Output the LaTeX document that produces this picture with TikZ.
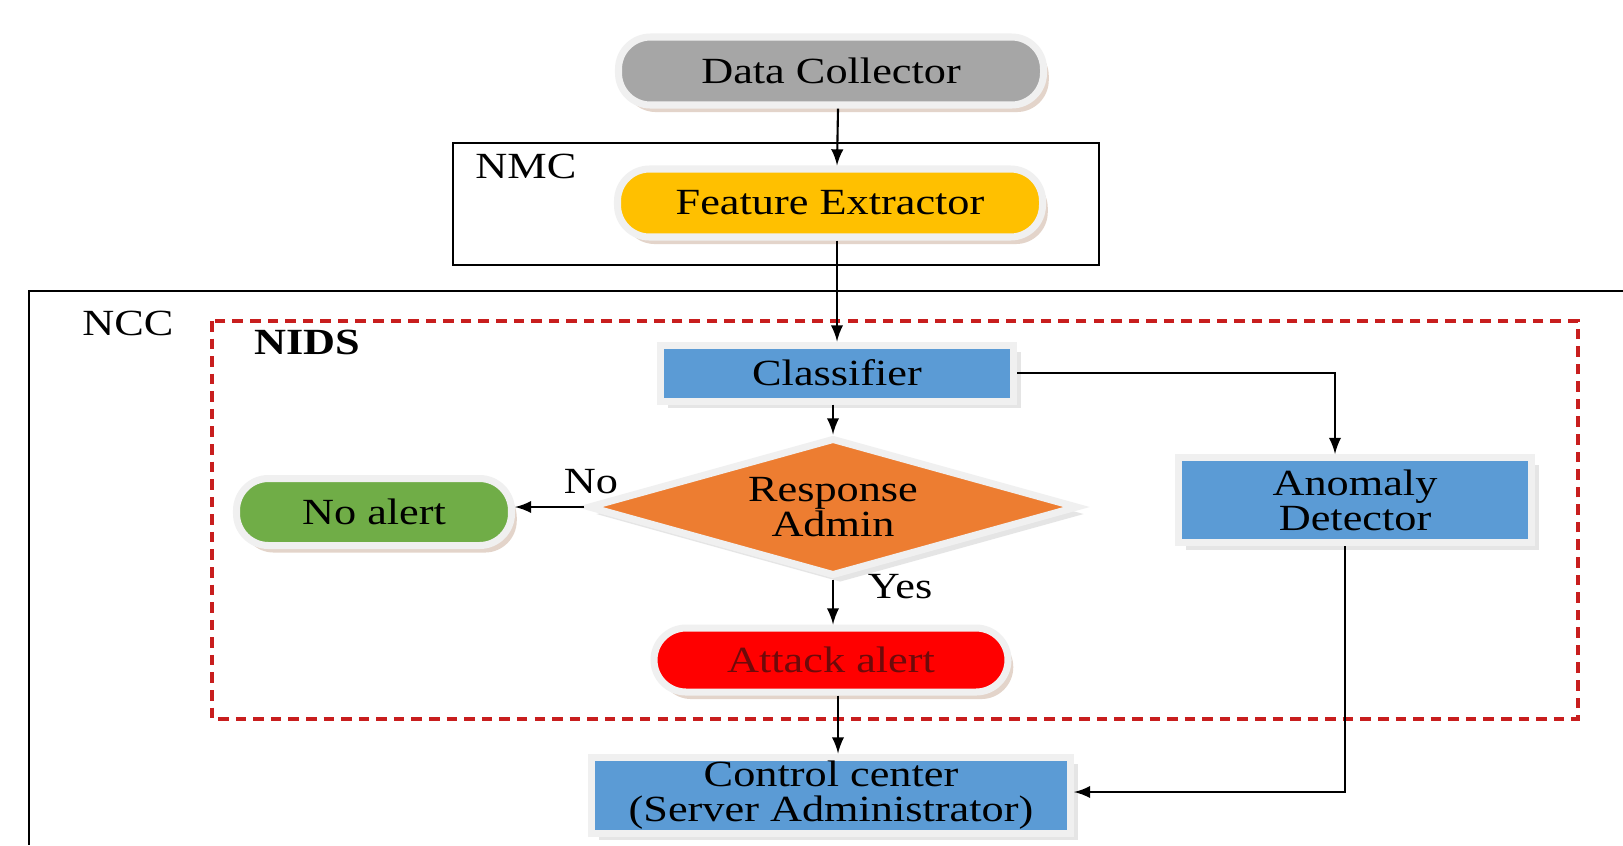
\documentclass[tikz,border=0pt]{standalone}
\usepackage{fontspec}
\setmainfont{Liberation Serif}[FakeStretch=1.2]
\usepackage{tikz}
\usetikzlibrary{arrows}
\usetikzlibrary{shadows}
\usetikzlibrary{shapes.geometric}
\definecolor{concrete}{RGB}{166, 166, 166}
\definecolor{amber}{RGB}{255, 192, 0}
\definecolor{steel}{RGB}{91, 155, 213}
\definecolor{carrot}{RGB}{237, 125, 49}
\definecolor{leaf}{RGB}{112, 173, 71}
\definecolor{scarlet}{RGB}{255, 0, 0}
\definecolor{maroon}{RGB}{110, 10, 10}
\definecolor{brick}{RGB}{200, 30, 30}
\definecolor{tan}{RGB}{200, 170, 150}

\tikzset{
    base/.style     = {font=\fontsize{10.5}{10}\selectfont, align=center, inner sep=0pt,
                       draw=gray!12, line width=2pt},
    pill/.style     = {base, rectangle, rounded corners=0.32cm,
                       drop shadow={shadow xshift=1.5pt, shadow yshift=-2pt, fill=tan}},
    block/.style    = {base, rectangle,
                       drop shadow={shadow xshift=2pt, shadow yshift=-2pt, fill=gray!40}},
    decision/.style = {base, diamond, aspect=3.5,
                       drop shadow={shadow xshift=2pt, shadow yshift=-2pt, fill=gray!40}},
    arrow/.style    = {-latex, line width=0.6pt},
    tag/.style      = {font=\fontsize{10.5}{12}\selectfont}
}

\begin{document}
\begin{tikzpicture}
    \useasboundingbox (0.00, 0.00) rectangle (16.23,-8.45);
    \fill[white]      (0.00, 0.00) rectangle (16.23,-8.45);

    % frames
    \draw[thick]                                              (16.23,-2.91) -- (0.29,-2.91) -- (0.29,-8.45);
    \draw[thick]                                              ( 4.53,-1.43) rectangle (10.99,-2.65);
    \draw[brick, line width=1.1pt, dash pattern=on 3pt off 2pt]( 2.12,-3.21) rectangle (15.78,-7.19);
    \node[tag, anchor=west]                 (ncclbl)  at ( 0.70,-3.23) {NCC};
    \node[tag, anchor=west]                 (nmclbl)  at ( 4.63,-1.66) {NMC};
    \node[tag, anchor=west, font=\fontsize{10.5}{12}\selectfont\bfseries]
                                            (nidslbl) at ( 2.42,-3.42) {NIDS};

    % blocks
    \node[pill, fill=concrete, minimum width=4.25cm, minimum height=0.68cm] (data)    at ( 8.31,-0.71) {Data Collector};
    \node[pill, fill=amber,    minimum width=4.25cm, minimum height=0.68cm] (feat)    at ( 8.30,-2.03) {Feature Extractor};
    \node[block, fill=steel,   minimum width=3.53cm, minimum height=0.56cm] (class)   at ( 8.37,-3.73) {Classifier};
    \node[decision, fill=carrot, minimum width=4.90cm, minimum height=1.38cm] (resp)  at ( 8.33,-5.07) {Response\\Admin};
    \node[pill, fill=leaf,     minimum width=2.75cm, minimum height=0.67cm] (noalert) at ( 3.74,-5.12) {No alert};
    \node[block, fill=steel,   minimum width=3.53cm, minimum height=0.85cm] (anom)    at (13.55,-5.00) {Anomaly\\Detector};
    \node[pill, fill=scarlet,  minimum width=3.54cm, minimum height=0.64cm,
          text=maroon]                                                      (attack)  at ( 8.31,-6.60) {Attack alert};
    \node[block, fill=steel,   minimum width=4.79cm, minimum height=0.76cm] (ctrl)    at ( 8.31,-7.95) {Control center\\(Server Administrator)};

    % connectors
    \draw[arrow] ([xshift=0.07cm]data.south)   -- ([xshift=0.07cm]feat.north);
    \draw[arrow] ([xshift=0.07cm]feat.south)   -- ([xshift=0.07cm]feat.south |- class.north);
    \draw[arrow] ([xshift=-0.04cm]class.south) -- ([xshift=-0.04cm]class.south |- resp.north);
    \draw[arrow] (resp.west)                   -- (resp.west -| noalert.east);
    \draw[arrow] (resp.south)                  -- (resp.south |- attack.north);
    \draw[arrow] ([xshift=0.07cm]attack.south) -- ([xshift=0.07cm]ctrl.north);
    \draw[arrow] (class.east)                  -| ([xshift=-0.20cm]anom.north);
    \draw[arrow] ([xshift=-0.10cm]anom.south)  |- ([yshift=0.03cm]ctrl.east);
    \node[tag] (nolbl)  at (5.91,-4.82) {No};
    \node[tag] (yeslbl) at (9.00,-5.87) {Yes};
\end{tikzpicture}
\end{document}
